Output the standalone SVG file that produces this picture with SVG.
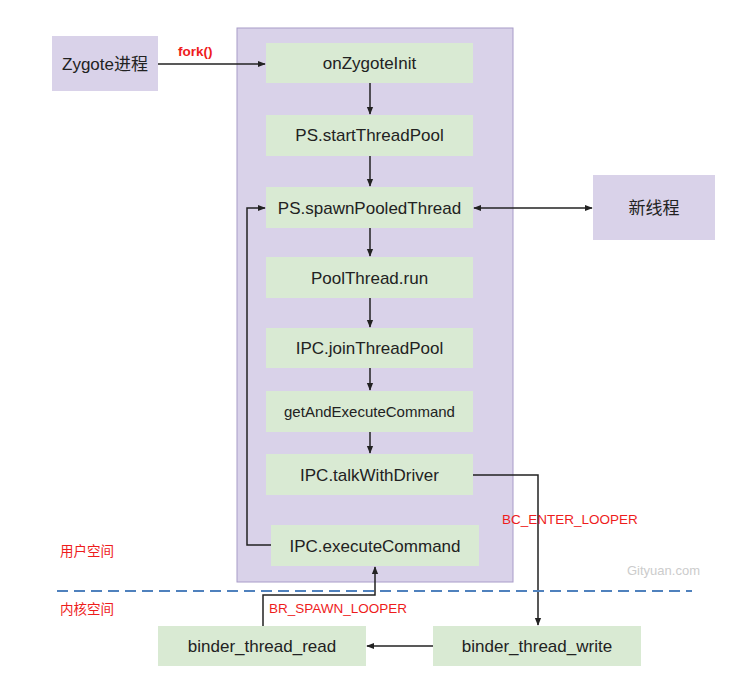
<svg xmlns="http://www.w3.org/2000/svg" width="749" height="684" viewBox="0 0 749 684">
<style>
.bg{fill:#ffffff}
.purple{fill:#d9d2e9}
.container{fill:#d9d2e9;stroke:#a89cc8;stroke-width:1}
.green{fill:#d9ead3}
.t{font-family:"Liberation Sans",Arial,"Noto Sans CJK SC",sans-serif;fill:#222;text-anchor:middle}
.n{font-size:17px}
.s{font-size:15px}
.red{font-family:"Liberation Sans",Arial,"Noto Sans CJK SC",sans-serif;fill:#ee1c1c;font-size:13.5px}
.c{fill:none;stroke:#222;stroke-width:1.5}
</style>
<defs>
<marker id="ah" viewBox="0 0 10 10" refX="9" refY="5" markerWidth="8" markerHeight="8" markerUnits="userSpaceOnUse" orient="auto-start-reverse">
<path d="M0,1 L10,5 L0,9 Z" fill="#222"/>
</marker>
</defs>
<rect class="bg" width="749" height="684"/>
<rect class="container" x="237" y="28" width="276" height="554"/>
<g id="zygote"><rect class="purple" x="52" y="36" width="106" height="55"/><text class="t n" x="105" y="70">Zygote进程</text></g>
<g id="newthread"><rect class="purple" x="593" y="175" width="122" height="65"/><text class="t n" x="654" y="214">新线程</text></g>
<g id="onZygoteInit"><rect class="green" x="266" y="43" width="207" height="40"/><text class="t n" x="369.5" y="69">onZygoteInit</text></g>
<g id="startThreadPool"><rect class="green" x="266" y="115" width="207" height="41"/><text class="t n" x="369.5" y="141">PS.startThreadPool</text></g>
<g id="spawnPooledThread"><rect class="green" x="266" y="187" width="207" height="41"/><text class="t n" x="369.5" y="214">PS.spawnPooledThread</text></g>
<g id="poolThreadRun"><rect class="green" x="266" y="257" width="207" height="41"/><text class="t n" x="369.5" y="284">PoolThread.run</text></g>
<g id="joinThreadPool"><rect class="green" x="266" y="328" width="207" height="40"/><text class="t n" x="369.5" y="354">IPC.joinThreadPool</text></g>
<g id="getAndExecuteCommand"><rect class="green" x="266" y="391" width="207" height="41"/><text class="t s" x="369.5" y="417">getAndExecuteCommand</text></g>
<g id="talkWithDriver"><rect class="green" x="266" y="454" width="207" height="41"/><text class="t n" x="369.5" y="481">IPC.talkWithDriver</text></g>
<g id="executeCommand"><rect class="green" x="271" y="525" width="208" height="41"/><text class="t n" x="375" y="552">IPC.executeCommand</text></g>
<g id="binderThreadRead"><rect class="green" x="158" y="626" width="208" height="40"/><text class="t n" x="262" y="652">binder_thread_read</text></g>
<g id="binderThreadWrite"><rect class="green" x="433" y="626" width="208" height="40"/><text class="t n" x="537" y="652">binder_thread_write</text></g>
<g id="connectors">
<path class="c" d="M158,64 H265" marker-end="url(#ah)"/>
<path class="c" d="M370,83 V114" marker-end="url(#ah)"/>
<path class="c" d="M370,156 V186" marker-end="url(#ah)"/>
<path class="c" d="M370,228 V256" marker-end="url(#ah)"/>
<path class="c" d="M370,298 V327" marker-end="url(#ah)"/>
<path class="c" d="M370,368 V390" marker-end="url(#ah)"/>
<path class="c" d="M370,432 V453" marker-end="url(#ah)"/>
<path class="c" d="M474,208 H592" marker-start="url(#ah)" marker-end="url(#ah)"/>
<path class="c" d="M271,545 H247 V208 H265" marker-end="url(#ah)"/>
<path class="c" d="M473,475 H538 V625" marker-end="url(#ah)"/>
<path class="c" d="M433,646 H367" marker-end="url(#ah)"/>
<path class="c" d="M263,626 V595 H375 V567" marker-end="url(#ah)"/>
</g>
<line x1="57" y1="591" x2="692" y2="591" stroke="#4f81bd" stroke-width="2" stroke-dasharray="11,6"/>
<text x="178" y="56" font-family="'Liberation Sans',Arial,sans-serif" font-size="13.5" font-weight="bold" fill="#ee1c1c">fork()</text>
<text class="red" x="502" y="524">BC_ENTER_LOOPER</text>
<text class="red" x="269" y="613">BR_SPAWN_LOOPER</text>
<text class="red" x="60" y="556" font-size="13">用户空间</text>
<text class="red" x="60" y="614" font-size="13">内核空间</text>
<text x="627" y="575" font-family="'Liberation Sans',Arial,sans-serif" font-size="13" fill="#cccccc">Gityuan.com</text>
</svg>
